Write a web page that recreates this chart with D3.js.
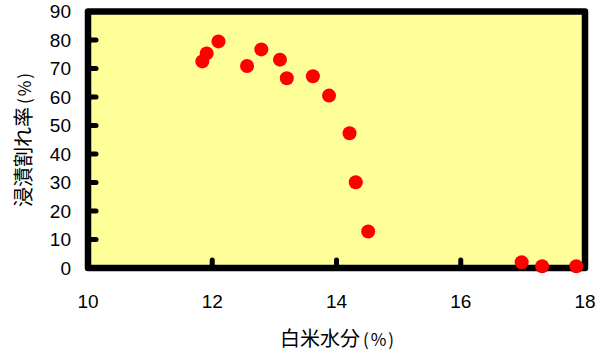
<!DOCTYPE html>
<html><head><meta charset="utf-8">
<script src="https://cdn.jsdelivr.net/npm/d3@7"></script>
<style>body{margin:0;background:#fff}svg{display:block}</style>
</head><body>
<script>
const moisture = [11.84, 11.91, 12.10, 12.56, 12.79, 13.09, 13.20, 13.62, 13.88, 14.21, 14.31, 14.51, 16.98, 17.31, 17.86];
const crackRate = [72.5, 75.3, 79.5, 70.9, 76.7, 73.1, 66.6, 67.3, 60.5, 47.3, 30.1, 12.8, 2.0, 0.6, 0.6];
const xTicks = [10, 12, 14, 16, 18];
const yTicks = [0, 10, 20, 30, 40, 50, 60, 70, 80, 90];
const xTitle = "白米水分";
const yTitle = "浸漬割れ率";
const unit = "(%)";

const W = 606, H = 353;
const svg = d3.select("body").append("svg").attr("width", W).attr("height", H);
const x = d3.scaleLinear().domain([10, 18]).range([88, 585]);
const y = d3.scaleLinear().domain([0, 90]).range([268, 11.5]);
const numFont = "'Liberation Sans', Arial, sans-serif";
const cjkFont = "'Noto Sans CJK JP', sans-serif";

svg.append("rect").attr("x", x(10)).attr("y", y(90))
  .attr("width", x(18) - x(10)).attr("height", y(0) - y(90))
  .attr("fill", "#ffff99");

// inner ticks
svg.append("g").selectAll("line").data(yTicks.filter(d => d > 0 && d < 90)).join("line")
  .attr("x1", x(10)).attr("x2", x(10) + 8).attr("y1", d => y(d)).attr("y2", d => y(d))
  .attr("stroke", "#000").attr("stroke-width", 5).attr("stroke-linecap", "round");
svg.append("g").selectAll("line").data(xTicks.filter(d => d > 10 && d < 18)).join("line")
  .attr("y1", y(0)).attr("y2", y(0) - 8).attr("x1", d => x(d)).attr("x2", d => x(d))
  .attr("stroke", "#000").attr("stroke-width", 5).attr("stroke-linecap", "round");

svg.append("rect").attr("x", x(10)).attr("y", y(90))
  .attr("width", x(18) - x(10)).attr("height", y(0) - y(90))
  .attr("fill", "none").attr("stroke", "#000").attr("stroke-width", 6.5)
  .attr("stroke-linejoin", "round");

// points
svg.append("g").selectAll("circle").data(moisture.map((m, i) => [m, crackRate[i]])).join("circle")
  .attr("cx", d => x(d[0])).attr("cy", d => y(d[1])).attr("r", 7)
  .attr("fill", "#ff0000");

// tick labels
svg.append("g").selectAll("text").data(yTicks).join("text")
  .attr("x", 71).attr("y", d => y(d)).attr("dy", "0.36em")
  .attr("text-anchor", "end").attr("font-family", numFont).attr("font-size", 19)
  .text(d => d);
svg.append("g").selectAll("text").data(xTicks).join("text")
  .attr("x", d => x(d)).attr("y", 308)
  .attr("text-anchor", "middle").attr("font-family", numFont).attr("font-size", 19)
  .text(d => d);

// titles
const xt = svg.append("text").attr("x", 338).attr("y", 346).attr("text-anchor", "middle")
  .attr("font-family", cjkFont).attr("font-size", 20).attr("fill", "#000");
xt.append("tspan").text(xTitle);
xt.append("tspan").attr("font-size", 17).attr("letter-spacing", 2).attr("dx", 3).text(unit);

const yt = svg.append("text").attr("transform", "translate(31,139) rotate(-90)")
  .attr("text-anchor", "middle")
  .attr("font-family", cjkFont).attr("font-size", 20).attr("fill", "#000");
yt.append("tspan").text(yTitle);
yt.append("tspan").attr("font-size", 17).attr("letter-spacing", 2).attr("dx", 3).text(unit);
</script>
</body></html>
